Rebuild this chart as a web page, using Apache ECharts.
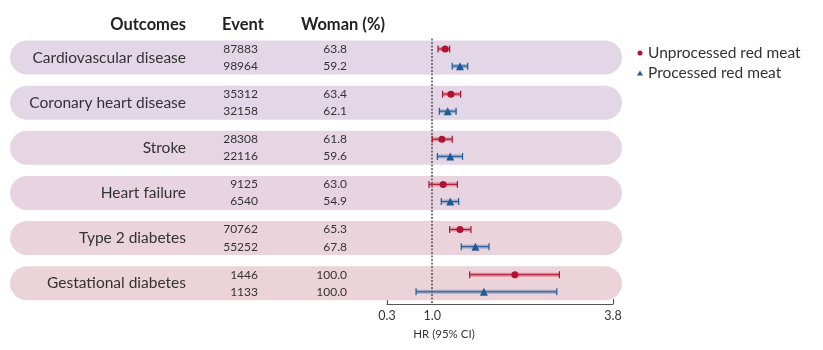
<!DOCTYPE html>
<html>
<head>
    <meta charset="utf-8">
    <script src="https://cdn.jsdelivr.net/npm/echarts@6/dist/echarts.min.js"></script>
    <style type="text/css">
        body { margin: 0; background: #fff; }
    </style>
</head>
<body>
    <div id="main" style="width: 823px;height:350px;"></div>
    <script type="text/javascript">
        // rows of the table
        var outcomes = ['Cardiovascular disease', 'Coronary heart disease', 'Stroke', 'Heart failure', 'Type 2 diabetes', 'Gestational diabetes'];
        var eventUnproc = [87883, 35312, 28308, 9125, 70762, 1446];
        var eventProc = [98964, 32158, 22116, 6540, 55252, 1133];
        var womanUnproc = [63.8, 63.4, 61.8, 63.0, 65.3, 100.0];
        var womanProc = [59.2, 62.1, 59.6, 54.9, 67.8, 100.0];

        // hazard ratios with 95% CI
        var hrUnproc = [1.20, 1.29, 1.15, 1.17, 1.43, 2.28];
        var loUnproc = [1.09, 1.16, 1.00, 0.95, 1.27, 1.58];
        var hiUnproc = [1.27, 1.44, 1.31, 1.39, 1.60, 2.97];
        var hrProc = [1.43, 1.24, 1.28, 1.28, 1.67, 1.80];
        var loProc = [1.31, 1.11, 1.08, 1.14, 1.45, 0.75];
        var hiProc = [1.55, 1.37, 1.47, 1.41, 1.88, 2.93];

        var xTicks = [0.3, 1.0, 3.8];
        var pillColors = ['#e2d6e7', '#e3d6e6', '#e6d5e3', '#e8d4e0', '#ebd3dc', '#ecd3da'];

        var RED = '#b3122e';
        var BLUE = '#1d5b96';
        var SUB = 0.19;   // offset of the two lines inside a pill
        var FONT = 'Lato';

        var myChart = echarts.init(document.getElementById('main'));

        var rowIdx = outcomes.map(function (o, i) { return i; });

        function ciSeries(name, lo, hi, color, off) {
            return {
                type: 'custom',
                name: name + ' CI',
                z: 3,
                silent: true,
                data: lo.map(function (v, i) { return [v, hi[i], i + off]; }),
                renderItem: function (params, api) {
                    var a = api.coord([api.value(0), api.value(2)]);
                    var b = api.coord([api.value(1), api.value(2)]);
                    var h = 3.5;
                    return {
                        type: 'group',
                        children: [
                            { type: 'line', shape: { x1: a[0], y1: a[1], x2: b[0], y2: b[1] },
                              style: { stroke: color, lineWidth: 4, opacity: 0.35 } },
                            { type: 'line', shape: { x1: a[0], y1: a[1], x2: b[0], y2: b[1] },
                              style: { stroke: color, lineWidth: 1 } },
                            { type: 'line', shape: { x1: a[0], y1: a[1] - h, x2: a[0], y2: a[1] + h },
                              style: { stroke: color, lineWidth: 1.2 } },
                            { type: 'line', shape: { x1: b[0], y1: b[1] - h, x2: b[0], y2: b[1] + h },
                              style: { stroke: color, lineWidth: 1.2 } }
                        ]
                    };
                }
            };
        }

        var option = {
            backgroundColor: '#fff',
            animation: false,
            textStyle: { fontFamily: FONT },
            grid: { left: 387, right: 210, top: 35, bottom: 46 },
            legend: {
                orient: 'vertical',
                left: 632,
                top: 40,
                itemGap: 4,
                itemWidth: 6,
                itemHeight: 5,
                data: ['Unprocessed red meat', 'Processed red meat'],
                textStyle: { fontSize: 15.5, color: '#333', fontFamily: FONT }
            },
            xAxis: {
                type: 'value',
                min: 0.3,
                max: 3.8,
                splitLine: { show: false },
                axisLine: { onZero: false, lineStyle: { color: '#555', width: 1.2 } },
                axisTick: { inside: true, length: 5, customValues: [0.3, 3.8], lineStyle: { color: '#555', width: 1.2 } },
                axisLabel: {
                    customValues: xTicks,
                    color: '#333',
                    fontSize: 12.5,
                    margin: 5,
                    formatter: function (v) { return v.toFixed(1); }
                }
            },
            yAxis: {
                type: 'value',
                inverse: true,
                min: -0.5,
                max: 5.46,
                show: false
            },
            graphic: [
                { type: 'text', x: 186, y: 25, style: { text: 'Outcomes', align: 'right', verticalAlign: 'middle', font: 'bold 16.5px ' + FONT, fill: '#222' } },
                { type: 'text', x: 243, y: 25, style: { text: 'Event', align: 'center', verticalAlign: 'middle', font: 'bold 16.5px ' + FONT, fill: '#222' } },
                { type: 'text', x: 343, y: 25, style: { text: 'Woman (%)', align: 'center', verticalAlign: 'middle', font: 'bold 16.5px ' + FONT, fill: '#222' } },
                { type: 'text', x: 444, y: 334, style: { text: 'HR (95% CI)', align: 'center', verticalAlign: 'middle', font: '11.5px ' + FONT, fill: '#333' } }
            ],
            series: [
                {
                    type: 'custom',
                    name: 'rows',
                    z: 1,
                    silent: true,
                    data: rowIdx.map(function (i) { return [1, i]; }),
                    renderItem: function (params, api) {
                        var i = params.dataIndex;
                        var c = api.coord([1, api.value(1)]);
                        var cy = c[1];
                        var dy = api.size([0, SUB])[1];
                        var numFont = '12px ' + FONT;
                        return {
                            type: 'group',
                            children: [
                                { type: 'rect', shape: { x: 10, y: cy - 17, width: 612, height: 34, r: 17 },
                                  style: { fill: pillColors[i] } },
                                { type: 'text', x: 186, y: cy, style: { text: outcomes[i], align: 'right', verticalAlign: 'middle', font: '15.5px ' + FONT, fill: '#333' } },
                                { type: 'text', x: 258, y: cy - dy, style: { text: String(eventUnproc[i]), align: 'right', verticalAlign: 'middle', font: numFont, fill: '#333' } },
                                { type: 'text', x: 258, y: cy + dy, style: { text: String(eventProc[i]), align: 'right', verticalAlign: 'middle', font: numFont, fill: '#333' } },
                                { type: 'text', x: 347, y: cy - dy, style: { text: womanUnproc[i].toFixed(1), align: 'right', verticalAlign: 'middle', font: numFont, fill: '#333' } },
                                { type: 'text', x: 347, y: cy + dy, style: { text: womanProc[i].toFixed(1), align: 'right', verticalAlign: 'middle', font: numFont, fill: '#333' } }
                            ]
                        };
                    },
                    markLine: {
                        silent: true,
                        symbol: 'none',
                        z: 2,
                        label: { show: false },
                        lineStyle: { color: '#555', type: [2, 1.5], width: 1.5 },
                        data: [[{ coord: [1, -0.42] }, { coord: [1, 5.46] }]]
                    }
                },
                ciSeries('Unprocessed red meat', loUnproc, hiUnproc, RED, -SUB),
                ciSeries('Processed red meat', loProc, hiProc, BLUE, SUB),
                {
                    type: 'scatter',
                    name: 'Unprocessed red meat',
                    z: 4,
                    symbol: 'circle',
                    symbolSize: 7,
                    itemStyle: { color: RED, opacity: 1 },
                    data: hrUnproc.map(function (v, i) { return [v, i - SUB]; })
                },
                {
                    type: 'scatter',
                    name: 'Processed red meat',
                    z: 4,
                    symbol: 'triangle',
                    symbolSize: 8,
                    itemStyle: { color: BLUE, opacity: 1 },
                    data: hrProc.map(function (v, i) { return [v, i + SUB]; })
                }
            ]
        };
        myChart.setOption(option);
    </script>
</body>
</html>
